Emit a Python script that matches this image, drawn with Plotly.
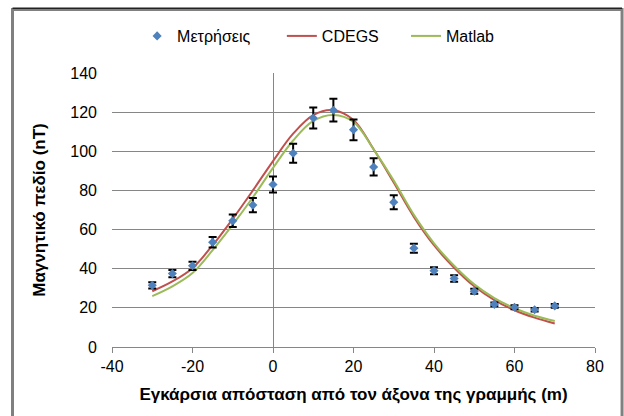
import plotly.graph_objects as go

# Measured field along the transverse profile (m, nT) with uncertainty
meas_x = [-30, -25, -20, -15, -10, -5, 0, 5, 10, 15, 20, 25, 30, 35, 40, 45, 50, 55, 60, 65, 70]
meas_y = [31.5, 37.5, 41.5, 53.5, 64.5, 72.5, 83, 99, 117, 121, 111, 92, 74, 50.5, 39, 35, 28.5, 21.8, 20.3, 19, 21]
meas_err = [1.6, 1.9, 2.1, 2.7, 3.2, 3.6, 4.1, 4.8, 5.4, 5.8, 5.3, 4.4, 3.6, 2.3, 1.8, 1.6, 1.3, 1.0, 1.0, 0.9, 1.0]

# Computed profiles
calc_x = [-30, -25, -20, -15, -10, -5, 0, 5, 10, 15, 20, 25, 30, 35, 40, 45, 50, 55, 60, 65, 70]
cdegs_y = [28.5, 33.5, 40.3, 52, 65.5, 80, 95, 109, 118.5, 121, 116, 101, 84, 66.5, 52, 40.5, 31, 24, 18.8, 15, 12]
matlab_y = [26, 31, 37.8, 49.5, 62.5, 76.5, 91.5, 105.5, 115.5, 118.5, 115, 101, 85, 67.5, 53, 41.5, 32, 25, 19.8, 16, 13.3]

x_ticks = [-40, -20, 0, 20, 40, 60, 80]
y_ticks = [0, 20, 40, 60, 80, 100, 120, 140]

FONT = "Liberation Sans, Arial, sans-serif"
AXIS_GREY = "#868686"
PAD = "\u00a0"

fig = go.Figure()

fig.add_trace(go.Scatter(
    x=calc_x, y=cdegs_y, name="CDEGS" + PAD * 5, mode="lines",
    line=dict(color="#C0504D", width=2, shape="spline", smoothing=1.0),
    legendrank=2,
))
fig.add_trace(go.Scatter(
    x=calc_x, y=matlab_y, name="Matlab", mode="lines",
    line=dict(color="#9BBB59", width=2, shape="spline", smoothing=1.0),
    legendrank=3,
))
fig.add_trace(go.Scatter(
    x=meas_x, y=meas_y, name="Μετρήσεις" + PAD * 6, mode="markers",
    marker=dict(symbol="diamond", size=7, color="#4F81BD"),
    error_y=dict(type="data", array=meas_err, visible=True,
                 color="black", thickness=2, width=4),
    legendrank=1,
))

# Chart-area frame
fig.add_shape(type="rect", xref="paper", yref="paper",
              x0=-0.206, x1=1.056, y0=-0.3, y1=1.232,
              line=dict(color="#808080", width=3), layer="below")
fig.add_shape(type="line", xref="paper", yref="paper",
              x0=-0.206, x1=1.056, y0=1.236, y1=1.236,
              line=dict(color="#222222", width=1.5))

fig.update_layout(
    width=624, height=416,
    margin=dict(l=112, r=29, t=73, b=69),
    paper_bgcolor="white", plot_bgcolor="white",
    font=dict(family=FONT, size=16, color="black"),
    showlegend=True,
    legend=dict(orientation="h", x=0.052, xanchor="left", y=1.135, yanchor="middle",
                font=dict(size=16), itemwidth=30, bgcolor="rgba(0,0,0,0)"),
)

fig.update_xaxes(
    range=[-40, 80], tickvals=x_ticks, ticktext=[str(v) for v in x_ticks],
    showgrid=False, showline=True, linecolor=AXIS_GREY, linewidth=1,
    ticks="outside", ticklen=5, tickcolor=AXIS_GREY,
    zeroline=True, zerolinecolor=AXIS_GREY, zerolinewidth=1,
    tickfont=dict(size=16),
    title=dict(text="<b>Εγκάρσια απόσταση από τον άξονα της γραμμής (m)</b>",
               font=dict(size=17), standoff=13),
)
fig.update_yaxes(
    range=[0, 140], tickvals=y_ticks, ticktext=[str(v) for v in y_ticks],
    showgrid=True, gridcolor=AXIS_GREY, gridwidth=1,
    showline=False, zeroline=False, ticks="", ticklabelstandoff=14,
    tickfont=dict(size=16),
    title=dict(text="<b>Μαγνητικό πεδίο (nT)</b>", font=dict(size=17), standoff=20),
)

fig.write_html("out.html")
